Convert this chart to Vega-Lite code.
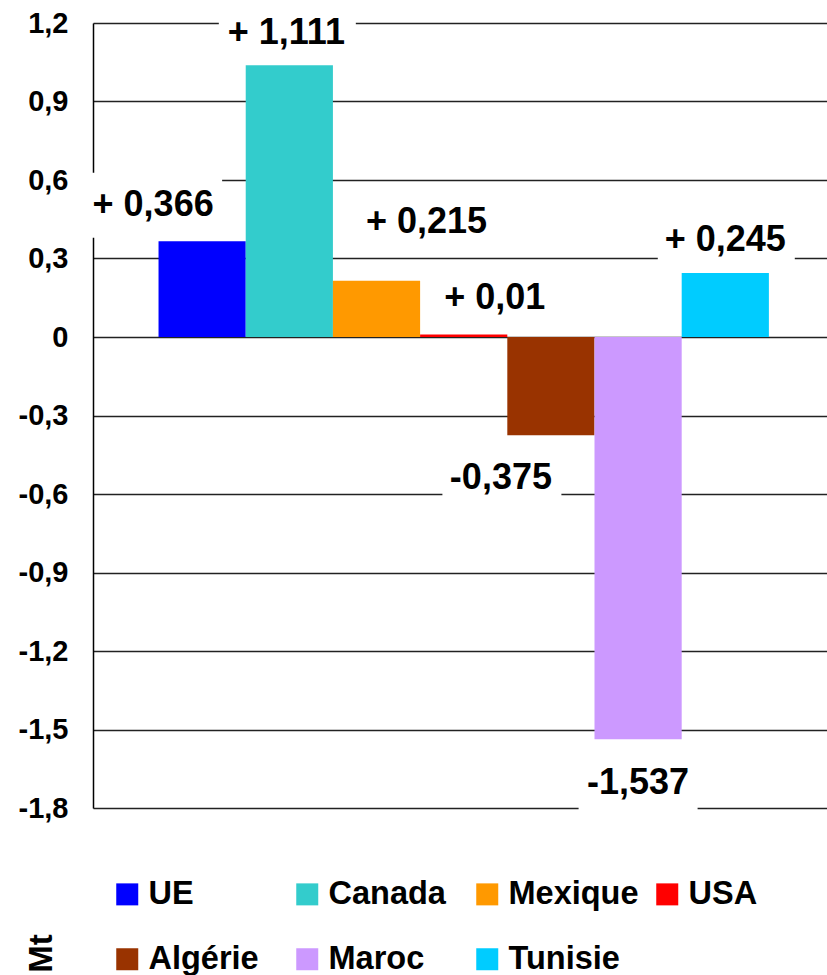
{
  "$schema": "https://vega.github.io/schema/vega-lite/v6.json",
  "autosize": "none",
  "width": 734,
  "height": 785,
  "padding": {"left": 93, "top": 23, "right": 0, "bottom": 167},
  "background": "white",
  "config": {
    "locale": {"number": {"decimal": ",", "thousands": ".", "grouping": [3], "currency": ["", ""], "minus": "-"}},
    "view": {"stroke": null},
    "text": {"font": "Liberation Sans", "fontSize": 36, "fontWeight": "bold", "align": "center", "baseline": "middle", "color": "black"},
    "point": {"filled": true, "fill": "white", "opacity": 1, "strokeWidth": 0}
  },
  "data": {
    "values": [
      {"country": "UE", "value": 0.366, "label": "+ 0,366"},
      {"country": "Canada", "value": 1.04, "label": "+ 1,111"},
      {"country": "Mexique", "value": 0.215, "label": "+ 0,215"},
      {"country": "USA", "value": 0.01, "label": "+ 0,01"},
      {"country": "Algérie", "value": -0.375, "label": "-0,375"},
      {"country": "Maroc", "value": -1.537, "label": "-1,537"},
      {"country": "Tunisie", "value": 0.245, "label": "+ 0,245"}
    ]
  },
  "encoding": {
    "x": {
      "field": "country", "type": "nominal", "sort": null,
      "scale": {"paddingInner": 0, "paddingOuter": 0.709, "align": 0.53},
      "axis": null
    },
    "y": {
      "field": "value", "type": "quantitative",
      "scale": {"domain": [-1.8, 1.2], "nice": false, "zero": false},
      "axis": {
        "values": [-1.8, -1.5, -1.2, -0.9, -0.6, -0.3, 0, 0.3, 0.6, 0.9, 1.2],
        "format": "~g",
        "grid": true, "gridColor": "#222222", "gridWidth": 1.5, "gridOpacity": 1,
        "domainColor": "black", "domainWidth": 1.5,
        "ticks": false,
        "labelPadding": 25, "labelFontSize": 29, "labelFont": "Liberation Sans", "labelFontWeight": "bold", "labelColor": "black",
        "title": "Mt", "titleAngle": 270, "titleX": -52, "titleY": 930, "titleAlign": "center", "titleBaseline": "middle",
        "titleFontSize": 33, "titleFont": "Liberation Sans", "titleFontWeight": "bold", "titleColor": "black"
      }
    }
  },
  "layer": [
    {
      "mark": {"type": "bar", "opacity": 1},
      "encoding": {
        "color": {
          "field": "country", "type": "nominal",
          "scale": {
            "domain": ["UE", "Canada", "Mexique", "USA", "Algérie", "Maroc", "Tunisie"],
            "range": ["#0000FF", "#33CCCC", "#FF9900", "#FF0000", "#993300", "#CC99FF", "#00CCFF"]
          },
          "legend": {
            "orient": "none", "legendX": 18, "legendY": 855,
            "direction": "horizontal", "columns": 4, "title": null,
            "symbolType": "square", "symbolSize": 484, "symbolStrokeWidth": 0, "symbolOpacity": 1,
            "labelFontSize": 32.5, "labelFont": "Liberation Sans", "labelFontWeight": "bold", "labelColor": "black",
            "labelOffset": 5, "gridAlign": "all", "columnPadding": 12, "rowPadding": 32, "labelLimit": 300
          }
        }
      }
    },
    {
      "transform": [{"filter": "datum.country === 'UE'"}],
      "layer": [
        {"mark": {"type": "point", "shape": "M-1,-0.471H1V0.471H-1Z", "size": 19044, "xOffset": -49, "yOffset": -36}},
        {"mark": {"type": "text", "dx": -49, "dy": -36}, "encoding": {"text": {"field": "label"}}}
      ]
    },
    {
      "transform": [{"filter": "datum.country === 'Canada'"}],
      "layer": [
        {"mark": {"type": "point", "shape": "M-1,-0.474H1V0.474H-1Z", "size": 18769, "xOffset": -2, "yOffset": -32}},
        {"mark": {"type": "text", "dx": -3, "dy": -32}, "encoding": {"text": {"field": "label"}}}
      ]
    },
    {
      "transform": [{"filter": "datum.country === 'Mexique'"}],
      "layer": [
        {"mark": {"type": "point", "shape": "M-1,-0.474H1V0.474H-1Z", "size": 18769, "xOffset": 50, "yOffset": -59}},
        {"mark": {"type": "text", "dx": 50, "dy": -59}, "encoding": {"text": {"field": "label"}}}
      ]
    },
    {
      "transform": [{"filter": "datum.country === 'USA'"}],
      "layer": [
        {"mark": {"type": "point", "shape": "M-1,-0.575H1V0.575H-1Z", "size": 12769, "xOffset": 31, "yOffset": -36}},
        {"mark": {"type": "text", "dx": 31, "dy": -36}, "encoding": {"text": {"field": "label"}}}
      ]
    },
    {
      "transform": [{"filter": "datum.country === 'Algérie'"}],
      "layer": [
        {"mark": {"type": "point", "shape": "M-1,-0.546H1V0.546H-1Z", "size": 14161, "xOffset": -49, "yOffset": 43}},
        {"mark": {"type": "text", "dx": -50, "dy": 43}, "encoding": {"text": {"field": "label"}}}
      ]
    },
    {
      "transform": [{"filter": "datum.country === 'Maroc'"}],
      "layer": [
        {"mark": {"type": "point", "shape": "M-1,-0.546H1V0.546H-1Z", "size": 14161, "xOffset": 0, "yOffset": 44}},
        {"mark": {"type": "text", "dx": 0, "dy": 44}, "encoding": {"text": {"field": "label"}}}
      ]
    },
    {
      "transform": [{"filter": "datum.country === 'Tunisie'"}],
      "layer": [
        {"mark": {"type": "point", "shape": "M-1,-0.474H1V0.474H-1Z", "size": 18769, "xOffset": 1, "yOffset": -33}},
        {"mark": {"type": "text", "dx": 0, "dy": -33}, "encoding": {"text": {"field": "label"}}}
      ]
    }
  ]
}
